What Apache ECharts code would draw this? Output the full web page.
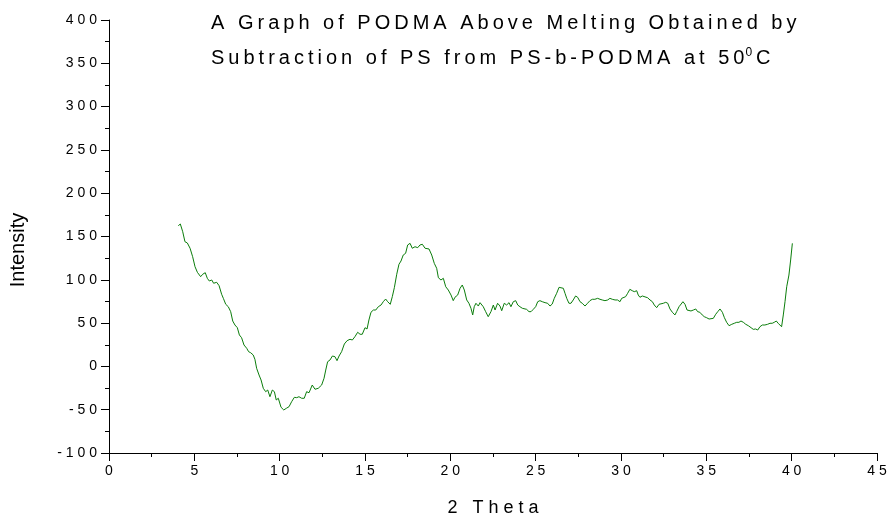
<!DOCTYPE html>
<html>
<head>
<meta charset="utf-8">
<script src="https://cdn.jsdelivr.net/npm/echarts@6/dist/echarts.min.js"></script>
<style>
  html, body { margin: 0; padding: 0; background: #fff; }
  #chart { width: 891px; height: 516px; }
</style>
</head>
<body>
<div id="chart"></div>
<script>
// 2-theta positions (degrees) of the traced diffraction curve
const theta = [
  4.06, 4.18, 4.32, 4.45, 4.59, 4.75, 4.90, 5.04, 5.18, 5.37, 5.49, 5.64, 5.76, 5.88, 6.02, 6.13,
  6.31, 6.45, 6.60, 6.70, 6.84, 6.99, 7.13, 7.25, 7.38, 7.52, 7.64, 7.77, 7.91, 8.07, 8.18, 8.30,
  8.45, 8.55, 8.65, 8.79, 8.91, 9.04, 9.18, 9.30, 9.43, 9.57, 9.69, 9.80, 9.92, 10.08, 10.24, 10.39,
  10.55, 10.70, 10.86, 11.00, 11.13, 11.29, 11.44, 11.58, 11.72, 11.91, 12.07, 12.26, 12.46, 12.60,
  12.70, 12.81, 12.95, 13.09, 13.24, 13.36, 13.48, 13.63, 13.79, 13.95, 14.12, 14.26, 14.41, 14.57,
  14.71, 14.84, 15.00, 15.12, 15.23, 15.35, 15.49, 15.63, 15.78, 15.94, 16.07, 16.21, 16.33, 16.48,
  16.60, 16.72, 16.86, 16.99, 17.11, 17.24, 17.38, 17.50, 17.64, 17.77, 17.93, 18.09, 18.22, 18.36,
  18.52, 18.63, 18.75, 18.91, 19.06, 19.20, 19.30, 19.45, 19.59, 19.73, 19.88, 20.04, 20.17, 20.27,
  20.43, 20.57, 20.70, 20.82, 20.96, 21.09, 21.21, 21.31, 21.40, 21.50, 21.64, 21.74, 21.84, 21.93,
  22.07, 22.22, 22.38, 22.52, 22.62, 22.77, 22.91, 23.01, 23.16, 23.30, 23.44, 23.55, 23.69, 23.83,
  23.95, 24.08, 24.22, 24.33, 24.47, 24.61, 24.73, 24.86, 25.00, 25.12, 25.25, 25.39, 25.55, 25.70,
  25.84, 25.97, 26.09, 26.23, 26.37, 26.48, 26.62, 26.72, 26.82, 26.95, 27.07, 27.20, 27.34, 27.46,
  27.60, 27.73, 27.89, 28.04, 28.18, 28.32, 28.47, 28.63, 28.77, 28.90, 29.06, 29.22, 29.35, 29.49,
  29.65, 29.80, 29.94, 30.04, 30.13, 30.27, 30.39, 30.52, 30.66, 30.78, 30.92, 31.01, 31.11, 31.25,
  31.36, 31.56, 31.70, 31.84, 31.95, 32.09, 32.23, 32.34, 32.48, 32.62, 32.74, 32.87, 33.01, 33.16,
  33.26, 33.40, 33.51, 33.63, 33.75, 33.87, 33.98, 34.10, 34.24, 34.38, 34.49, 34.62, 34.76, 34.88,
  35.02, 35.16, 35.27, 35.41, 35.55, 35.67, 35.80, 35.94, 36.06, 36.19, 36.33, 36.49, 36.64, 36.78,
  36.91, 37.03, 37.17, 37.31, 37.46, 37.62, 37.75, 37.89, 38.01, 38.14, 38.28, 38.43, 38.59, 38.73,
  38.86, 38.98, 39.10, 39.21, 39.31, 39.41, 39.51, 39.61, 39.71, 39.84, 39.94, 40.04
];

// Intensity (PODMA signal after PS subtraction) at each 2-theta above
const intensity = [
  162.5, 164.4, 155.5, 144.0, 142.5, 136.4, 126.7, 115.1, 108.6, 103.6, 106.4, 108.2, 101.7, 98.6, 99.8, 96.0,
  97.1, 93.2, 83.3, 78.6, 71.7, 68.9, 63.2, 52.4, 47.8, 44.7, 36.3, 33.1, 24.7, 20.9, 17.0, 15.8,
  13.2, 8.2, -2.2, -9.9, -15.7, -25.3, -29.2, -27.3, -35.0, -27.3, -29.2, -38.8, -36.8, -47.2, -50.3, -48.4,
  -46.5, -40.8, -35.7, -36.1, -35.0, -36.8, -36.8, -29.2, -30.4, -21.5, -26.4, -25.3, -21.5, -13.7,
  -4.2, 5.4, 7.4, 12.0, 11.2, 6.6, 12.0, 17.0, 25.9, 29.7, 31.3, 30.5, 34.3, 39.4,
  37.1, 37.1, 44.7, 43.2, 53.6, 62.5, 65.1, 65.1, 68.9, 70.9, 74.7, 77.8, 74.7, 71.7,
  80.5, 90.9, 106.4, 117.9, 121.7, 128.6, 130.6, 140.2, 142.1, 136.4, 138.2, 137.1, 140.2, 141.0,
  136.4, 134.4, 135.6, 128.6, 119.0, 113.3, 102.4, 99.8, 101.7, 92.0, 88.2, 82.4, 75.9, 79.8,
  82.4, 90.2, 94.0, 88.2, 76.7, 72.9, 67.1, 59.4, 68.9, 72.9, 69.7, 73.6, 74.7, 68.9,
  63.2, 57.4, 63.2, 70.9, 65.1, 72.9, 69.7, 64.3, 72.9, 70.9, 73.6, 68.9, 74.7, 75.9,
  70.9, 68.9, 67.1, 65.1, 65.9, 63.2, 63.2, 65.9, 68.9, 74.7, 75.9, 74.7, 73.6, 72.9,
  69.7, 72.0, 78.6, 84.4, 91.3, 90.2, 90.2, 84.4, 78.6, 72.9, 72.9, 76.7, 81.3, 79.8,
  74.7, 72.9, 69.7, 72.9, 75.9, 77.5, 77.5, 78.6, 77.5, 76.7, 75.9, 76.7, 78.6, 77.5,
  76.7, 76.7, 74.7, 78.6, 78.6, 80.5, 84.4, 89.0, 87.4, 86.3, 87.4, 82.4, 79.8, 81.3,
  83.6, 79.3, 76.7, 74.7, 70.9, 67.8, 71.7, 70.1, 72.9, 74.0, 72.9, 66.3, 62.5, 59.4,
  63.2, 68.9, 70.1, 74.7, 71.7, 65.1, 66.3, 64.0, 65.1, 66.3, 63.2, 62.5, 59.4, 57.4,
  56.2, 54.7, 52.4, 55.5, 60.2, 63.2, 66.3, 62.5, 56.2, 50.9, 47.0, 48.6, 49.8, 50.9,
  50.9, 52.4, 50.9, 48.6, 47.0, 44.7, 42.8, 43.2, 42.0, 45.8, 47.8, 47.8, 48.6, 49.8,
  49.8, 50.9, 52.4, 49.8, 47.8, 45.8, 59.4, 74.7, 92.0, 105.5, 122.9, 142.1
];

// Axis setup
const xTicks = { min: 0, max: 45, step: 5 };
const yTicks = { min: -100, max: 400, step: 50 };

const titleLine1 = 'A Graph of PODMA Above Melting Obtained by';
const titleLine2 = 'Subtraction of PS from PS-b-PODMA at 50';
const xName = '2 Theta';
const yName = 'Intensity';

const FONT = '"Liberation Sans", Arial, Helvetica, sans-serif';
const THIN = '\u2009';

// spread characters apart with thin spaces (tracked lettering)
function tracked(str, sep) {
  return Array.from(String(str)).join(sep);
}

const points = theta.map((t, i) => [t, intensity[i]]);

const chart = echarts.init(document.getElementById('chart'), null, { renderer: 'canvas' });

chart.setOption({
  animation: false,
  backgroundColor: '#ffffff',
  title: {
    left: 211,
    top: 6,
    padding: 0,
    text: tracked(titleLine1, THIN) + '\n' + tracked(titleLine2, THIN) + '{sup|0}' + THIN + 'C',
    textStyle: {
      fontFamily: FONT,
      fontSize: 20,
      fontWeight: 'normal',
      color: '#000',
      lineHeight: 35,
      rich: {
        sup: {
          fontFamily: FONT,
          fontSize: 12,
          color: '#000',
          verticalAlign: 'top',
          padding: [6, 0, 0, 1]
        }
      }
    }
  },
  graphic: [{
    type: 'text',
    x: 18,
    y: 250,
    rotation: Math.PI / 2,
    style: {
      text: yName,
      font: '20px ' + FONT,
      fill: '#000',
      align: 'center',
      verticalAlign: 'middle'
    }
  }],
  grid: { left: 109, right: 14, top: 20, bottom: 63, containLabel: false, outerBoundsMode: 'none' },
  xAxis: {
    type: 'value',
    min: xTicks.min,
    max: xTicks.max,
    interval: xTicks.step,
    name: tracked(xName, ' '),
    nameLocation: 'middle',
    nameGap: 46,
    nameTextStyle: { fontFamily: FONT, fontSize: 18, color: '#000' },
    axisLine: { onZero: false, lineStyle: { color: '#000', width: 1 } },
    axisTick: { show: true, inside: false, length: 8, lineStyle: { color: '#000' } },
    minorTick: { show: true, splitNumber: 2, length: 4, lineStyle: { color: '#000' } },
    axisLabel: {
      margin: 11,
      fontFamily: FONT,
      fontSize: 14,
      color: '#000',
      formatter: v => tracked(v, ' ')
    },
    splitLine: { show: false }
  },
  yAxis: {
    type: 'value',
    min: yTicks.min,
    max: yTicks.max,
    interval: yTicks.step,
    axisLine: { show: true, onZero: false, lineStyle: { color: '#000', width: 1 } },
    axisTick: { show: true, inside: false, length: 8, lineStyle: { color: '#000' } },
    minorTick: { show: true, splitNumber: 2, length: 4, lineStyle: { color: '#000' } },
    axisLabel: {
      margin: 12,
      fontFamily: FONT,
      fontSize: 14,
      color: '#000',
      formatter: v => tracked(v, ' ')
    },
    splitLine: { show: false }
  },
  series: [{
    type: 'line',
    data: points,
    showSymbol: false,
    symbol: 'none',
    smooth: false,
    lineStyle: { color: '#0b7d0b', width: 1 },
    z: 3
  }]
});
</script>
</body>
</html>
